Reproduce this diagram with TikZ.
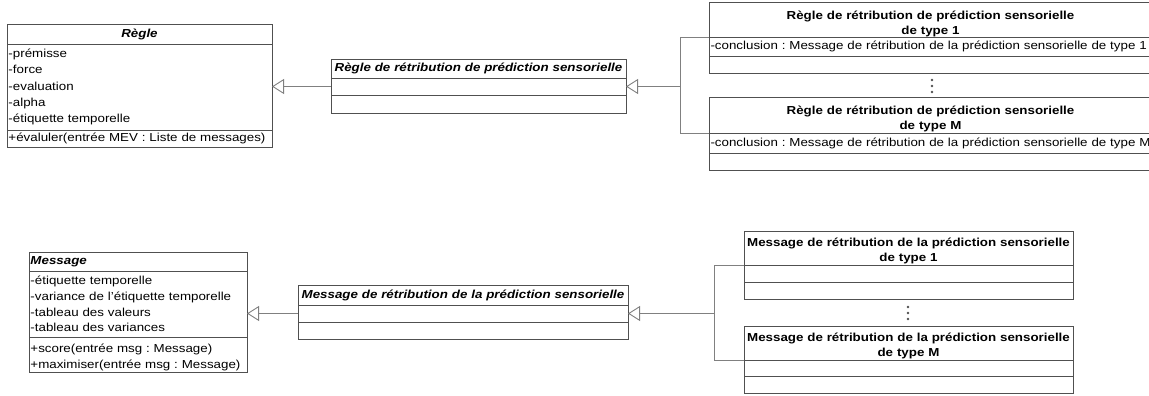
\documentclass[tikz,border=0pt]{standalone}
\usepackage{fontspec}
\setmainfont{Liberation Sans}[FakeStretch=1.15]
\usetikzlibrary{arrows.meta,positioning}
\definecolor{UmlLine}{HTML}{505050}
\definecolor{UmlEdge}{HTML}{808080}
\newcommand{\umlfont}{\fontsize{11.6}{15.8}\selectfont\frenchspacing}
\frenchspacing

\begin{document}
\begin{tikzpicture}[x=1pt,y=-1pt,font=\umlfont,
  cls/.style={draw=UmlLine,line width=0.9pt,fill=white,outer sep=0pt,inner xsep=1.5pt,inner ysep=0pt},
  hd/.style 2 args={cls,align=center,font=\umlfont\bfseries,text width=#1,minimum height=#2},
  twolines/.style={font=\fontsize{11.6}{15}\selectfont\bfseries,text depth=11pt},
  sec/.style 2 args={cls,align=left,text width=#1,minimum height=#2},
  gen/.style={draw=UmlEdge,line width=0.9pt,-{Triangle[open,length=12pt,width=15pt,fill=white]}},
  link/.style={draw=UmlEdge,line width=0.9pt}]
  \useasboundingbox (0,0) rectangle (1149,396);
  \clip (0,0) rectangle (1149,396);

  % regles
  \node[hd={262pt}{20},font=\umlfont\bfseries\itshape,anchor=north west] (regle) at (7,24) {Règle};
  \node[sec={262pt}{86},below=0pt of regle,font=\fontsize{11.6}{16.25}\selectfont] (regleA) {-prémisse\\-force\\-evaluation\\-alpha\\-étiquette temporelle};
  \node[sec={262pt}{17},below=0pt of regleA] (regleM) {+évaluler(entrée MEV : Liste de messages)};

  \node[hd={292pt}{19},font=\umlfont\bfseries\itshape,anchor=north west] (regleSP) at (331,59) {Règle de rétribution de prédiction sensorielle};
  \node[sec={292pt}{17},below=0pt of regleSP] (regleSPa) {};
  \node[sec={292pt}{18},below=0pt of regleSPa] (regleSPm) {};

  \node[hd={440pt}{35},twolines,text depth=9pt,anchor=north west] (regleT1) at (709,2) {Règle de rétribution de prédiction sensorielle\\de type 1};
  \node[sec={440pt}{19},below=0pt of regleT1] (regleT1a) {\mbox{-conclusion : Message de rétribution de la prédiction sensorielle de type 1}};
  \node[sec={440pt}{17},below=0pt of regleT1a] (regleT1m) {};
  \foreach \d in {-6,0,6} \fill[UmlLine] (932,{86+\d}) circle (1.4pt);
  \node[hd={440pt}{36},twolines,text depth=10pt,anchor=north west] (regleTM) at (709,97) {Règle de rétribution de prédiction sensorielle\\de type M};
  \node[sec={440pt}{20},below=0pt of regleTM] (regleTMa) {\mbox{-conclusion : Message de rétribution de la prédiction sensorielle de type M}};
  \node[sec={440pt}{17},below=0pt of regleTMa] (regleTMm) {};

  \draw[gen] (regleSPa.west) -- (regleSPa.west -| regleA.east);
  \coordinate (busA) at (680,0);
  \draw[gen] (regleSPa.east -| busA) -- (regleSPa.east);
  \draw[link] (regleT1a.north west) -| (busA |- regleTMa.north west) -- (regleTMa.north west);

  % messages
  \node[hd={215pt}{19},align=left,font=\umlfont\bfseries\itshape,anchor=north west] (msg) at (29,252) {Message};
  \node[sec={215pt}{66},below=0pt of msg] (msgA) {-étiquette temporelle\\-variance de l'étiquette temporelle\\-tableau des valeurs\\-tableau des variances};
  \node[sec={215pt}{35},below=0pt of msgA,font=\fontsize{11.6}{16}\selectfont,text depth=12pt] (msgM) {+score(entrée msg : Message)\\+maximiser(entrée msg : Message)};

  \node[hd={327pt}{20},font=\umlfont\bfseries\itshape,anchor=north west] (msgSP) at (298,285) {Message de rétribution de la prédiction sensorielle};
  \node[sec={327pt}{17},below=0pt of msgSP] (msgSPa) {};
  \node[sec={327pt}{17},below=0pt of msgSPa] (msgSPm) {};

  \node[hd={326pt}{34},twolines,anchor=north west] (msgT1) at (744,231) {Message de rétribution de la prédiction sensorielle\\de type 1};
  \node[sec={326pt}{17},below=0pt of msgT1] (msgT1a) {};
  \node[sec={326pt}{17},below=0pt of msgT1a] (msgT1m) {};
  \foreach \d in {-6,0,6} \fill[UmlLine] (908,{313+\d}) circle (1.4pt);
  \node[hd={326pt}{34},twolines,anchor=north west] (msgTM) at (744,326) {Message de rétribution de la prédiction sensorielle\\de type M};
  \node[sec={326pt}{16},below=0pt of msgTM] (msgTMa) {};
  \node[sec={326pt}{17},below=0pt of msgTMa] (msgTMm) {};

  \draw[gen] (msgSPa.west) -- (msgSPa.west -| msgA.east);
  \coordinate (busB) at (714,0);
  \draw[gen] (msgSPa.east -| busB) -- (msgSPa.east);
  \draw[link] (msgT1a.north west) -| (busB |- msgTMa.north west) -- (msgTMa.north west);
\end{tikzpicture}
\end{document}
